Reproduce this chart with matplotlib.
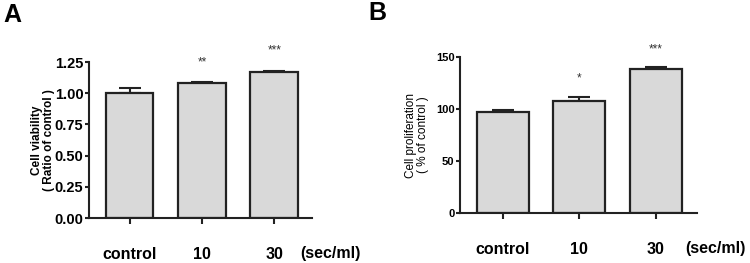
import numpy as np
import matplotlib.pyplot as plt

# data
groups = ['control', '10', '30']

viab_mean = [1.00, 1.08, 1.17]
viab_err = [0.04, 0.01, 0.01]
viab_stars = ['', '**', '***']
viab_star_y = [0, 1.25, 1.34]

prol_mean = [97, 108, 138]
prol_err = [2, 4, 2]
prol_stars = ['', '*', '***']
prol_star_y = [0, 129, 157]

plt.rcParams['font.family'] = ['Liberation Sans', 'DejaVu Sans']

W, H = 750, 263
fig = plt.figure(figsize=(W / 100, H / 100), dpi=100)


def px_axes(x0, y0, x1, y1):
    # axes from pixel box (top-left origin)
    return fig.add_axes([x0 / W, 1 - y1 / H, (x1 - x0) / W, (y1 - y0) / H])


def panel(ax, means, errs, stars, star_y, ylim, yticks, ytl_size, ylabel, ylab_size, ylab_weight, xlim, bw):
    x = np.arange(len(means))
    ax.bar(x, means, width=bw, color='#d9d9d9', edgecolor='#222222', linewidth=1.6, zorder=2)
    ax.errorbar(x, means, yerr=[np.zeros(len(errs)), errs], fmt='none', ecolor='#222222',
                elinewidth=1.5, capsize=8, capthick=1.5, zorder=1)
    for xi, s, sy in zip(x, stars, star_y):
        if s:
            ax.text(xi, sy, s, ha='center', va='center', fontsize=8.5, color='#333333', clip_on=False)
    ax.set_xlim(*xlim)
    ax.set_ylim(*ylim)
    ax.set_yticks(yticks)
    ax.set_xticks(x)
    ax.set_xticklabels(groups, fontsize=11.5, fontweight='bold')
    for lab in ax.get_yticklabels():
        lab.set_fontsize(ytl_size)
        lab.set_fontweight('bold')
    ax.tick_params(axis='x', length=4, width=1.5, pad=17, color='#222222')
    ax.tick_params(axis='y', length=3, width=1.5, pad=1, color='#222222')
    for s in ['top', 'right']:
        ax.spines[s].set_visible(False)
    for s in ['left', 'bottom']:
        ax.spines[s].set_linewidth(1.5)
        ax.spines[s].set_color('#222222')
    ax.set_ylabel(ylabel, fontsize=ylab_size, fontweight=ylab_weight, linespacing=1.0)
    ax.text(2.78, -0.23, '(sec/ml)', transform=ax.get_xaxis_transform(), ha='center', va='center',
            fontsize=11.5, fontweight='bold', clip_on=False)


axA = px_axes(89, 62, 312, 218)
panel(axA, viab_mean, viab_err, viab_stars, viab_star_y, (0, 1.25),
      [0, 0.25, 0.5, 0.75, 1.0, 1.25], 10.5, 'Cell viability\n( Ratio of control )', 8.5, 'bold',
      (-0.56, 2.52), 0.66)
axA.yaxis.set_major_formatter(plt.FormatStrFormatter('%.2f'))
axA.yaxis.set_label_coords(-0.152, 0.5)

axB = px_axes(460, 57, 697, 213)
panel(axB, prol_mean, prol_err, prol_stars, prol_star_y, (0, 150),
      [0, 50, 100, 150], 8, 'Cell proliferation\n( % of control )', 8.5, 'normal',
      (-0.56, 2.54), 0.68)
axB.yaxis.set_label_coords(-0.13, 0.5)

fig.text(3 / W, 1 - 15 / H, 'A', fontsize=18, fontweight='bold', va='center', ha='left')
fig.text(368 / W, 1 - 13 / H, 'B', fontsize=18, fontweight='bold', va='center', ha='left')

fig.savefig('out.png', dpi=100)
